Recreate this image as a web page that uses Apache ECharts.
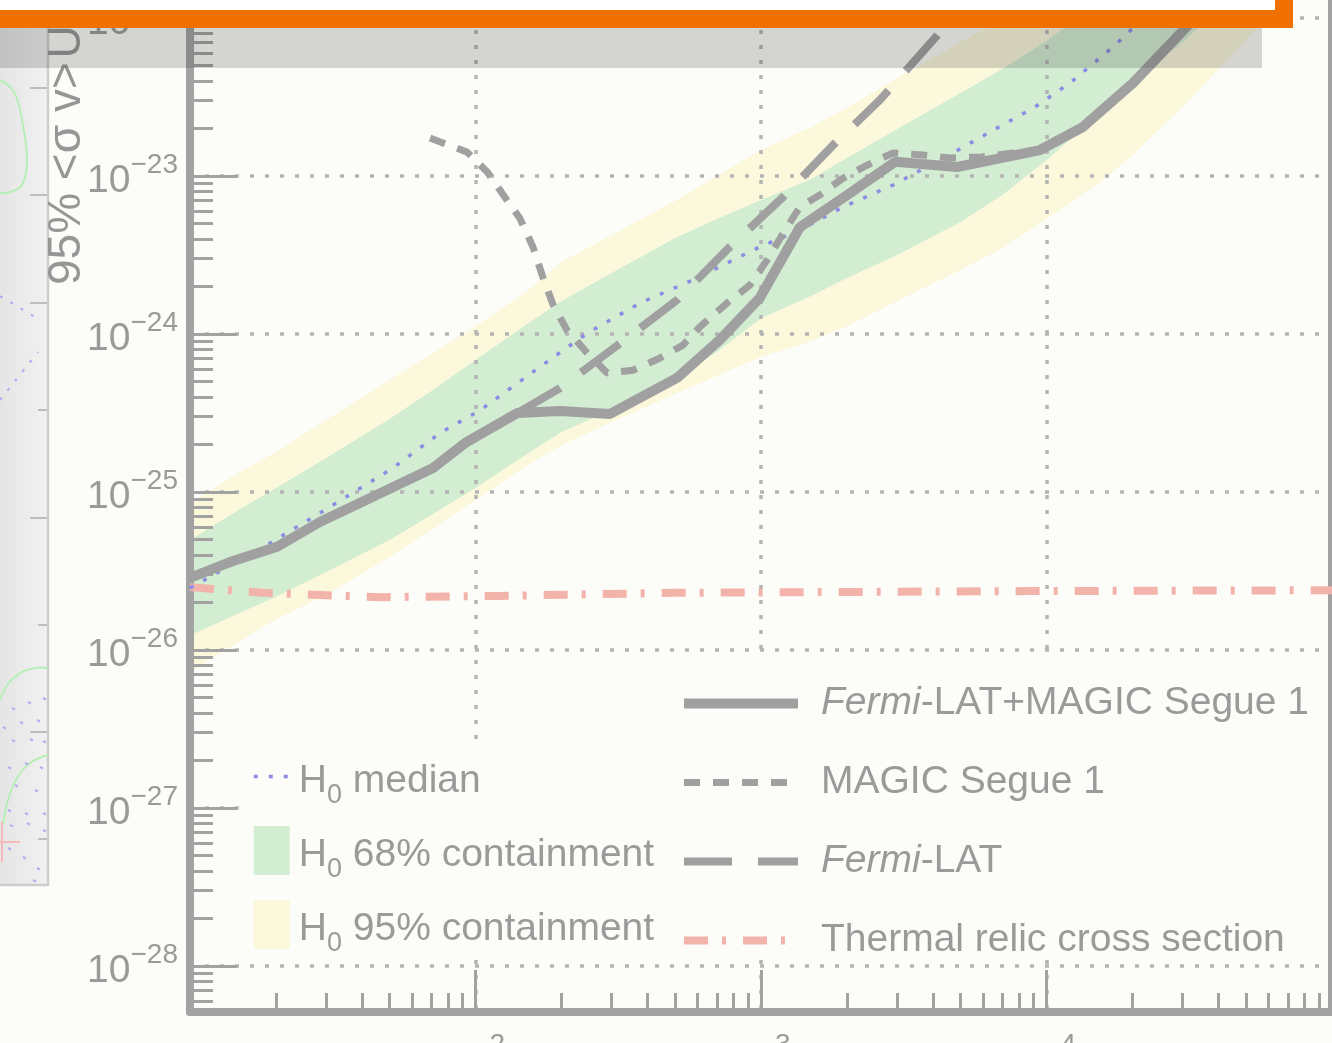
<!DOCTYPE html>
<html>
<head>
<meta charset="utf-8">
<title>Segue 1 dark matter limits</title>
<script src="https://cdn.jsdelivr.net/npm/echarts@6/dist/echarts.min.js"></script>
<style>
  html, body { margin: 0; padding: 0; background: #fcfcf8; }
  #chart { width: 1332px; height: 1043px; }
</style>
</head>
<body>
<div id="chart"></div>
<script>
// ---- data -------------------------------------------------------------
// WIMP mass grid (GeV) on which the H0 containment bands are sampled
const bandMass = [10, 15, 20, 30, 50, 70, 100, 150, 200, 300, 500, 700, 1000, 1500, 2000,
                  3000, 5000, 7000, 10000, 15000, 20000, 30000, 50000, 70000];
// 95% containment band edges (cm^3 s^-1)
const band95Low  = [7.26e-27, 1.14e-26, 1.57e-26, 2.23e-26, 3.88e-26, 5.75e-26, 8.9e-26, 1.46e-25,
                    1.98e-25, 2.77e-25, 4.17e-25, 5.42e-25, 7.15e-25, 9.03e-25, 1.12e-24, 1.62e-24,
                    2.54e-24, 3.5e-24, 5.34e-24, 8.77e-24, 1.36e-23, 2.73e-23, 7.26e-23, 1.4e-22];
const band95High = [8.52e-26, 1.34e-25, 1.79e-25, 2.86e-25, 5.12e-25, 7.47e-25, 1.12e-24, 1.84e-24,
                    2.86e-24, 4.23e-24, 6.95e-24, 1.0e-23, 1.46e-23, 2.04e-23, 2.69e-23, 4.17e-23,
                    7.05e-23, 9.86e-23, 1.36e-22, 2.33e-22, 3.35e-22, 6.0e-22, 1.34e-21, 2.4e-21];
// 68% containment band edges
const band68Low  = [1.24e-26, 1.72e-26, 2.17e-26, 3.12e-26, 4.97e-26, 7.15e-26, 1.06e-25, 1.72e-25,
                    2.4e-25, 3.3e-25, 5.12e-25, 7.69e-25, 1.26e-24, 1.74e-24, 2.26e-24, 3.16e-24,
                    5.12e-24, 7.58e-24, 1.26e-23, 2.43e-23, 3.88e-23, 7.05e-23, 1.62e-22, 2.69e-22];
const band68High = [4.97e-26, 7.8e-26, 1.06e-25, 1.64e-25, 2.9e-25, 4.36e-25, 6.84e-25, 1.14e-24,
                    1.62e-24, 2.43e-24, 4.05e-24, 5.34e-24, 7.05e-24, 9.57e-24, 1.3e-23, 1.98e-23,
                    3.35e-23, 4.76e-23, 7.15e-23, 1.24e-22, 1.74e-22, 2.9e-22, 6.46e-22, 1.2e-21];

// [mass (GeV), 95% UL on <sigma v> (cm^3 s^-1)]
const combinedLimit = [[10, 2.86e-26], [13.8, 3.6e-26], [20.2, 4.5e-26], [28.5, 6.46e-26], [49, 1.03e-25],
  [71, 1.42e-25], [93, 2.07e-25], [140, 3.16e-25], [198, 3.26e-25], [296, 3.12e-25], [508, 5.27e-25],
  [718, 9.2e-25], [990, 1.69e-24], [1370, 4.75e-24], [2050, 7.8e-24], [2950, 1.23e-23], [4860, 1.14e-23],
  [9490, 1.46e-23], [13400, 2.04e-23], [20100, 3.88e-23], [32600, 9.7e-23], [40000, 1.6e-22]];

const magicLimit = [[69.3, 1.74e-23], [93.3, 1.42e-23], [110, 1.06e-23], [125, 7.6e-24], [143, 5.4e-24],
  [159, 3.55e-24], [172, 2.3e-24], [187, 1.53e-24], [209, 1.06e-24], [246, 7.6e-25], [289, 5.67e-25],
  [356, 5.9e-25], [443, 7.05e-25], [533, 8.5e-25], [611, 1.11e-24], [760, 1.57e-24], [915, 2.04e-24],
  [1050, 2.94e-24], [1233, 4.75e-24], [1370, 6.37e-24], [1610, 7.6e-24], [1940, 9.7e-24], [2350, 1.17e-23],
  [2900, 1.4e-23], [3690, 1.36e-23], [4590, 1.3e-23], [5940, 1.32e-23], [7630, 1.4e-23], [9490, 1.46e-23],
  [13400, 2.04e-23], [20100, 3.88e-23], [32600, 9.7e-23], [40000, 1.6e-22]];

const fermiLimit = [[10, 2.86e-26], [13.8, 3.6e-26], [20.2, 4.5e-26], [28.5, 6.46e-26], [49, 1.03e-25],
  [71, 1.42e-25], [93, 2.07e-25], [140, 3.16e-25], [198, 4.55e-25], [315, 8.5e-25], [508, 1.64e-24],
  [778, 3.56e-24], [1195, 7.36e-24], [1820, 1.62e-23], [2610, 3.03e-23], [4150, 7.8e-23], [5200, 1.3e-22],
  [6000, 1.7e-22]];

const medianH0 = [[10, 2.47e-26], [12.4, 3.07e-26], [18.6, 4.62e-26], [30.9, 8.04e-26], [51.4, 1.42e-25],
  [75.1, 2.36e-25], [104, 3.3e-25], [168, 6.18e-25], [246, 1.01e-24], [377, 1.57e-24], [578, 2.2e-24],
  [991, 3.56e-24], [1370, 4.55e-24], [1940, 6.37e-24], [2900, 8.77e-24], [4700, 1.4e-23], [6500, 1.95e-23],
  [8980, 2.69e-23], [12100, 3.88e-23], [17100, 6.55e-23], [23000, 1.09e-22], [27000, 1.4e-22]];

const thermalRelic = [[10, 2.5e-26], [18, 2.3e-26], [46.3, 2.16e-26], [119, 2.2e-26], [492, 2.3e-26],
  [8750, 2.36e-26], [100000, 2.39e-26]];

// decade exponents that carry labels
const xTickExponents = [2, 3, 4];
const yTickExponents = [-28, -27, -26, -25, -24, -23, -22];

// ---- axis ranges (log10 space) ----------------------------------------
const xLogMin = 1, xLogMax = 5;
const yLogMin = -28.2911, yLogMax = -21.8861;

const xMinorTicks = [];
for (let d = 1; d < 5; d++) for (let k = 2; k <= 9; k++) xMinorTicks.push(d + Math.log10(k));
const yMinorTicks = [];
for (let d = -29; d < -21; d++) for (let k = 2; k <= 9; k++) {
  const v = d + Math.log10(k);
  if (v > yLogMin && v < yLogMax) yMinorTicks.push(v);
}

// ---- style ------------------------------------------------------------
const FONT = '"Liberation Sans", Helvetica, Arial, sans-serif';
const BG = '#fcfcf8';
const AXIS = '#a2a2a2';
const GRIDC = '#b4b4b4';
const TEXT = '#9a9a9a';
const LIMIT = '#a0a0a0';
const MEDIAN = '#8c8ce4';
const RELIC = '#f2b3ab';
const FILL68 = '#d3edd2';
const FILL95 = '#fcf8dc';

// "10" with a raised exponent; paddings place the exponent above the base line
const powerRich = {
  b: { fontSize: 39, lineHeight: 40, color: TEXT, fontFamily: FONT, padding: [11, 0, 0, 0] },
  s: { fontSize: 28, lineHeight: 28, color: TEXT, fontFamily: FONT, padding: [0, 0, 22, 0] }
};

// containment band drawn as one polygon between its lower and upper edge
function bandSeries(name, low, high, color) {
  return {
    type: 'custom', name: name, coordinateSystem: 'cartesian2d', z: 1, silent: true, color: color,
    data: bandMass.map((m, i) => [m, low[i], high[i]]),
    encode: { x: 0, y: [1, 2] },
    renderItem: (params, api) => {
      if (params.dataIndex !== 0) return null;
      const upper = bandMass.map((m, i) => api.coord([m, high[i]]));
      const lower = bandMass.map((m, i) => api.coord([m, low[i]])).reverse();
      return { type: 'polygon', shape: { points: upper.concat(lower) }, style: { fill: color } };
    }
  };
}

function limitSeries(name, data, color, width, type) {
  return { type: 'line', name: name, data: data, symbol: 'none', z: 3, color: color,
    lineStyle: { color: color, width: width, type: type }, emphasis: { disabled: true } };
}

const hiddenLogX = { type: 'log', logBase: 10, min: 10, max: 1e5, show: false, position: 'bottom' };
const hiddenLogY = { type: 'log', logBase: 10, min: Math.pow(10, yLogMin), max: Math.pow(10, yLogMax),
  show: false, position: 'left' };

const option = {
  backgroundColor: BG,
  animation: false,
  grid: { left: 190, right: 0, top: 0, bottom: 31, containLabel: false, outerBoundsMode: 'none' },
  xAxis: [
    hiddenLogX,
    { type: 'value', min: xLogMin, max: xLogMax, position: 'bottom', z: 2,
      axisLine: { show: true, onZero: false, lineStyle: { color: AXIS, width: 8 } },
      axisTick: { show: true, inside: true, length: 42, customValues: xTickExponents,
        lineStyle: { color: AXIS, width: 3 } },
      axisLabel: { show: true, margin: 44, verticalAlign: 'middle', customValues: xTickExponents,
        formatter: v => '{b|10}{s|' + v + '}', rich: powerRich },
      splitLine: { show: true, lineStyle: { color: GRIDC, width: 3.5, type: [4, 11] } } },
    { type: 'value', min: xLogMin, max: xLogMax, position: 'bottom', z: 2,
      axisLine: { show: false, onZero: false },
      axisTick: { show: true, inside: true, length: 19, customValues: xMinorTicks,
        lineStyle: { color: AXIS, width: 3 } },
      axisLabel: { show: false }, splitLine: { show: false } }
  ],
  yAxis: [
    hiddenLogY,
    { type: 'value', min: yLogMin, max: yLogMax, position: 'left', z: 2,
      axisLine: { show: true, onZero: false, lineStyle: { color: AXIS, width: 8 } },
      axisTick: { show: true, inside: true, length: 47, customValues: yTickExponents,
        lineStyle: { color: AXIS, width: 3 } },
      axisLabel: { show: true, margin: 12, customValues: yTickExponents,
        formatter: v => '{b|10}{s|\u2212' + Math.abs(v) + '}', rich: powerRich },
      splitLine: { show: true, lineStyle: { color: GRIDC, width: 3.5, type: [4, 11] } } },
    { type: 'value', min: yLogMin, max: yLogMax, position: 'left', z: 2,
      axisLine: { show: false, onZero: false },
      axisTick: { show: true, inside: true, length: 23, customValues: yMinorTicks,
        lineStyle: { color: AXIS, width: 3 } },
      axisLabel: { show: false }, splitLine: { show: false } },
    { type: 'value', min: yLogMin, max: yLogMax, position: 'right', z: 2,
      axisLine: { show: true, onZero: false, lineStyle: { color: AXIS, width: 8 } },
      axisTick: { show: false }, axisLabel: { show: false }, splitLine: { show: false } }
  ],
  legend: [
    {
      data: [
        { name: 'Fermi-LAT+MAGIC Segue 1', itemStyle: { opacity: 0 } },
        { name: 'MAGIC Segue 1', itemStyle: { opacity: 0 } },
        { name: 'Fermi-LAT', itemStyle: { opacity: 0 } },
        { name: 'Thermal relic cross section', itemStyle: { opacity: 0 } }
      ],
      orient: 'vertical', left: 666, top: 660, padding: [24, 12, 0, 13],
      itemWidth: 114, itemHeight: 20, itemGap: 40,
      backgroundColor: BG, selectedMode: false, z: 6,
      lineStyle: { width: 'inherit' },
      formatter: n => n.replace('Fermi', '{i|Fermi}'),
      textStyle: { fontSize: 39, color: TEXT, fontFamily: FONT, padding: [0, 0, 0, 18],
        rich: { i: { fontStyle: 'italic', fontSize: 39, color: TEXT, fontFamily: FONT } } }
    },
    {
      data: [
        { name: 'H0 median', itemStyle: { opacity: 0 } },
        { name: 'H0 68% containment', icon: 'rect', itemStyle: { color: FILL68, opacity: 1, borderWidth: 0 } },
        { name: 'H0 95% containment', icon: 'rect', itemStyle: { color: FILL95, opacity: 1, borderWidth: 0 } }
      ],
      orient: 'vertical', left: 240, top: 741, padding: [13, 10, 2, 12],
      itemWidth: 36, itemHeight: 49, itemGap: 17,
      backgroundColor: BG, selectedMode: false, z: 6,
      lineStyle: { width: 'inherit' },
      formatter: n => '{h|H}{sub|0}{h|' + n.slice(2) + '}',
      textStyle: { fontSize: 39, color: TEXT, fontFamily: FONT, padding: [10, 0, 0, 4],
        rich: {
          h: { fontSize: 39, lineHeight: 40, color: TEXT, fontFamily: FONT },
          sub: { fontSize: 27, lineHeight: 27, color: TEXT, fontFamily: FONT, padding: [28, 0, 0, 0] }
        } }
    }
  ],
  series: [
    bandSeries('H0 95% containment', band95Low, band95High, FILL95),
    bandSeries('H0 68% containment', band68Low, band68High, FILL68),
    limitSeries('Thermal relic cross section', thermalRelic, RELIC, 8, [24, 14, 4, 17]),
    limitSeries('H0 median', medianH0, MEDIAN, 3.5, [4, 11]),
    limitSeries('Fermi-LAT', fermiLimit, LIMIT, 8, [48, 26]),
    limitSeries('MAGIC Segue 1', magicLimit, LIMIT, 7, [16, 13]),
    limitSeries('Fermi-LAT+MAGIC Segue 1', combinedLimit, LIMIT, 10, 'solid')
  ],
  graphic: { elements: [
    // neighbouring panel on the left
    { type: 'rect', z: 100, shape: { x: 0, y: 0, width: 48, height: 885 },
      style: { fill: { type: 'linear', x: 0, y: 0, x2: 1, y2: 0,
        colorStops: [{ offset: 0, color: '#e5e5e5' }, { offset: 1, color: '#f1f1f1' }] } } },
    { type: 'line', z: 101, shape: { x1: 48, y1: 0, x2: 48, y2: 886 }, style: { stroke: '#cdcdcd', lineWidth: 2.5 } },
    { type: 'line', z: 101, shape: { x1: 0, y1: 885, x2: 48, y2: 885 }, style: { stroke: '#cdcdcd', lineWidth: 2.5 } },
    ...[88, 195, 303, 518, 732].map(y => ({ type: 'line', z: 101, shape: { x1: 30, y1: y, x2: 47, y2: y },
      style: { stroke: '#bdbdbd', lineWidth: 2 } })),
    ...[410, 625, 839].map(y => ({ type: 'line', z: 101, shape: { x1: 38, y1: y, x2: 47, y2: y },
      style: { stroke: '#bdbdbd', lineWidth: 2 } })),
    { type: 'polyline', z: 101, shape: { points: [[0, 80], [14, 92], [22, 120], [27, 160], [22, 185], [10, 192], [0, 193]], smooth: 0.4 },
      style: { stroke: '#b6efb6', lineWidth: 2, fill: null } },
    { type: 'polyline', z: 101, shape: { points: [[0, 700], [8, 684], [20, 673], [35, 668], [48, 668]], smooth: 0.4 },
      style: { stroke: '#b6efb6', lineWidth: 2, fill: null } },
    { type: 'polyline', z: 101, shape: { points: [[3, 825], [8, 800], [17, 778], [30, 763], [48, 755]], smooth: 0.4 },
      style: { stroke: '#b6efb6', lineWidth: 2, fill: null } },
    { type: 'line', z: 101, shape: { x1: 0, y1: 296, x2: 40, y2: 320 }, style: { stroke: '#ababf0', lineWidth: 2, lineDash: [3, 9] } },
    { type: 'line', z: 101, shape: { x1: 0, y1: 400, x2: 38, y2: 352 }, style: { stroke: '#ababf0', lineWidth: 2, lineDash: [3, 9] } },
    ...[[12, 708], [28, 702], [43, 698], [3, 727], [20, 722], [37, 720], [12, 740], [30, 739], [43, 741],
        [8, 767], [25, 763], [40, 767], [8, 810], [25, 813], [43, 813], [10, 825], [27, 823], [43, 830],
        [8, 848], [23, 857], [37, 868], [33, 880], [15, 785], [35, 790]].map(p => ({
      type: 'line', z: 101, shape: { x1: p[0], y1: p[1], x2: p[0] + 3, y2: p[1] + 1.5 },
      style: { stroke: '#b0b0f2', lineWidth: 2 } })),
    { type: 'line', z: 101, shape: { x1: 0, y1: 842, x2: 20, y2: 842 }, style: { stroke: '#f5baba', lineWidth: 2 } },
    { type: 'line', z: 101, shape: { x1: 2, y1: 822, x2: 2, y2: 862 }, style: { stroke: '#f5baba', lineWidth: 2 } },
    // y axis title
    { type: 'text', z: 102, x: 90, y: 285, rotation: Math.PI / 2,
      style: { text: '95% <\u03c3 v>\u200aUL', fontSize: 46, fontFamily: FONT, fill: '#969696',
        align: 'left', verticalAlign: 'bottom' } },
    // translucent header strip and frame
    { type: 'rect', z: 110, shape: { x: 0, y: 28, width: 1262, height: 40 }, style: { fill: 'rgba(40,40,40,0.19)' } },
    { type: 'rect', z: 111, shape: { x: 0, y: 0, width: 1275, height: 10 }, style: { fill: '#ffffff' } },
    { type: 'rect', z: 112, shape: { x: 0, y: 10, width: 1293, height: 18 }, style: { fill: '#f07100' } },
    { type: 'rect', z: 112, shape: { x: 1275, y: 0, width: 18, height: 28 }, style: { fill: '#f07100' } }
  ] }
};

const chart = echarts.init(document.getElementById('chart'));
chart.setOption(option);
</script>
</body>
</html>
